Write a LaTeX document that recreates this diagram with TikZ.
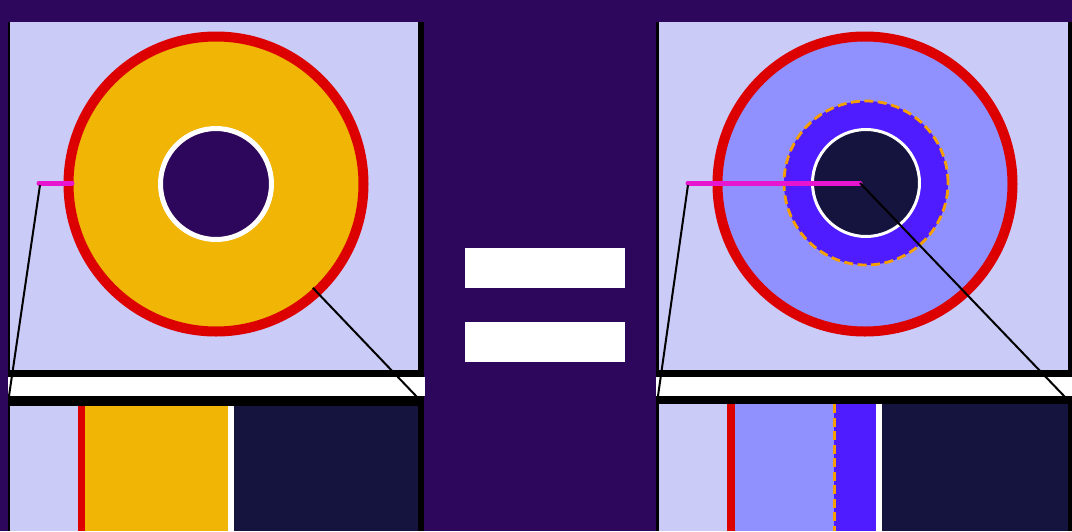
\documentclass[tikz,border=0pt]{standalone}
\usetikzlibrary{calc}
\definecolor{bgpurple}{HTML}{2D075B}
\definecolor{lav}{HTML}{CBCBF8}
\definecolor{gold}{HTML}{F0B505}
\definecolor{ringred}{HTML}{DD0000}
\definecolor{navy}{HTML}{14143F}
\definecolor{peri}{HTML}{9090FF}
\definecolor{vblue}{HTML}{4F1BFF}
\definecolor{magen}{HTML}{E815D0}
\definecolor{orng}{HTML}{F5A000}
\tikzset{
  ring/.style={draw=ringred, line width=10pt},
  probe/.style={draw=magen, line width=5pt, line cap=round},
  zoomline/.style={draw=black, line width=2pt},
  whitering/.style={draw=white},
  odash/.style={draw=orng, line width=2.8pt, dash pattern=on 9pt off 4.5pt},
}
\begin{document}
\begin{tikzpicture}[x=1pt,y=-1pt]
\fill[bgpurple] (0,0) rectangle (1072,531);
\useasboundingbox (0,0) rectangle (1072,531);
% ---------- left panel ----------
\fill[black] (8,22) rectangle (424,377);
\fill[lav] (10,22) rectangle (418,370);
\fill[white] (8,377) rectangle (425,396);
\fill[black] (8,396) rectangle (424,531);
\fill[lav] (10,406) rectangle (78,531);
\fill[ringred] (78,406) rectangle (85,531);
\fill[gold] (85,406) rectangle (228,531);
\fill[white] (228,406) rectangle (234,531);
\fill[navy] (234,406) rectangle (418,531);
\coordinate (LC) at (216,184);
\fill[gold] (LC) circle[radius=145pt];
\draw[ring] (LC) circle[radius=147.5pt];
\fill[bgpurple] (LC) circle[radius=55pt];
\draw[whitering, line width=5pt] (LC) circle[radius=55.5pt];
\coordinate (LP1) at (39,183);
\coordinate (LP2) at (72,183);
\draw[probe] (LP1) -- (LP2);
\coordinate (LA) at (40,185);
\coordinate (LB) at (9,396);
\coordinate (LD) at ($(LC)+(-47:142pt)$);
\coordinate (LE) at (417,397);
\draw[zoomline] (LA) -- (LB);
\draw[zoomline] (LD) -- (LE);
% ---------- equals ----------
\fill[white] (465,248) rectangle (625,288);
\fill[white] (465,322) rectangle (625,362);
% ---------- right panel ----------
\fill[black] (656,22) rectangle (1072,377);
\fill[lav] (659,22) rectangle (1068,370);
\fill[white] (656,377) rectangle (1072,396);
\fill[black] (656,396) rectangle (1072,531);
\fill[lav] (659,404) rectangle (727,531);
\fill[ringred] (727,404) rectangle (735,531);
\fill[peri] (735,404) rectangle (834,531);
\fill[vblue] (834,404) rectangle (876,531);
\fill[white] (876,404) rectangle (882,531);
\fill[navy] (882,404) rectangle (1068,531);
\draw[odash] (834.5,404) -- (834.5,531);
\coordinate (RC) at (865,184);
\fill[peri] (RC) circle[radius=145pt];
\draw[ring] (RC) circle[radius=147.5pt];
\coordinate (RC2) at (866,183);
\fill[vblue] (RC2) circle[radius=82pt];
\draw[odash] (RC2) circle[radius=82pt];
\fill[navy] (RC2) circle[radius=53pt];
\draw[whitering, line width=3pt] (RC2) circle[radius=53.5pt];
\coordinate (RP1) at (688,183);
\coordinate (RP2) at (860,183);
\draw[probe] (RP1) -- (RP2);
\coordinate (RA) at (688,185);
\coordinate (RB) at (658,396);
\coordinate (RE) at (1065,397);
\draw[zoomline] (RA) -- (RB);
\draw[zoomline] (RP2) -- (RE);
\end{tikzpicture}
\end{document}
